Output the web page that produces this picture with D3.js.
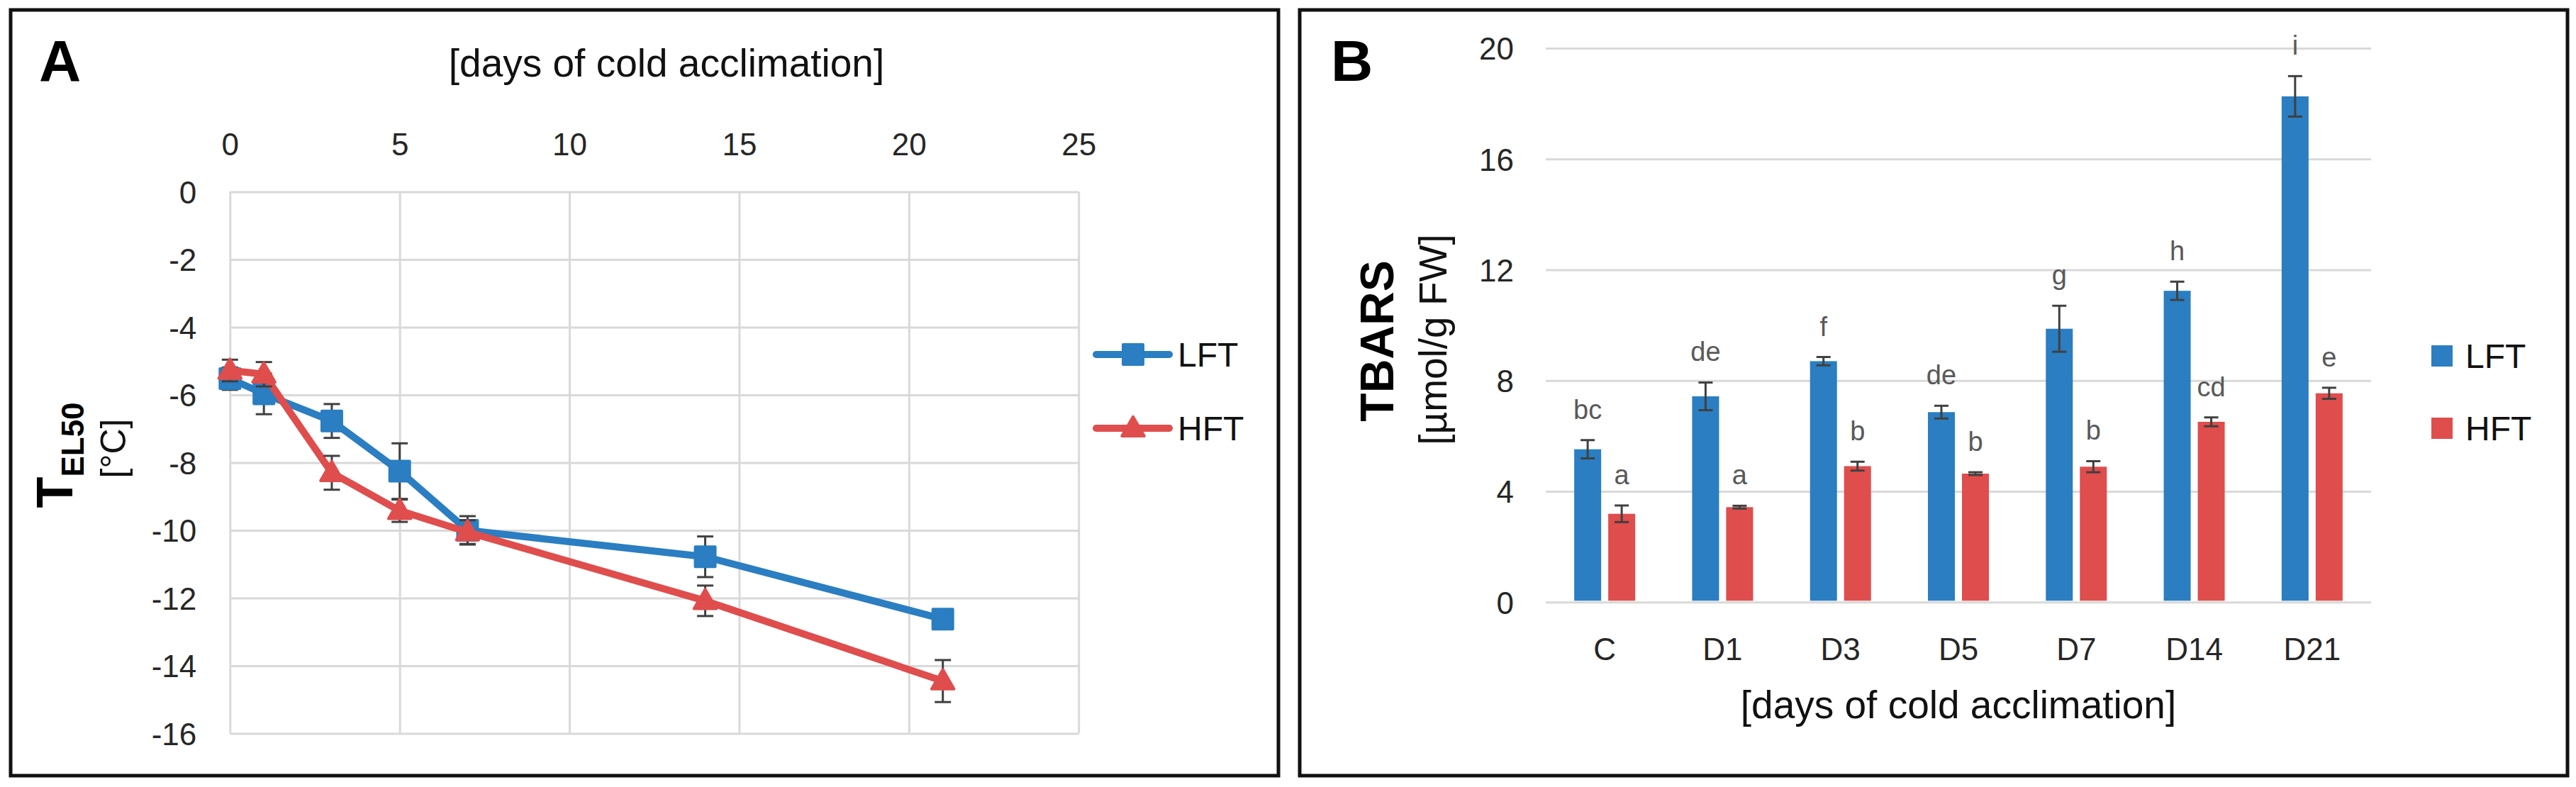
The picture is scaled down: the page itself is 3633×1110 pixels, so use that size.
<!DOCTYPE html>
<html>
<head>
<meta charset="utf-8">
<script src="https://cdn.jsdelivr.net/npm/d3@7"></script>
<style>
  html, body { margin: 0; padding: 0; background: #fff; }
  svg { display: block; font-family: "Liberation Sans", Arial, sans-serif; }
</style>
</head>
<body>
<script>
// ---------- Panel A data : T_EL50 vs days ----------
const daysA = [0, 1, 3, 5, 7, 14, 21];
const lftTel50 = [-5.52, -5.97, -6.77, -8.25, -10.0, -10.78, -12.62];
const lftTel50Err = [0.33, 0.6, 0.5, 0.82, 0.42, 0.6, 0.15];
const hftTel50 = [-5.28, -5.39, -8.3, -9.42, -10.05, -12.08, -14.45];
const hftTel50Err = [0.32, 0.36, 0.5, 0.33, 0.35, 0.45, 0.62];
const xTicksA = [0, 5, 10, 15, 20, 25];
const yTicksA = [0, -2, -4, -6, -8, -10, -12, -14, -16];

// ---------- Panel B data : TBARS ----------
const groupsB = ["C", "D1", "D3", "D5", "D7", "D14", "D21"];
const seriesNames = ["LFT", "HFT"];
const lftTbars = [5.52, 7.43, 8.70, 6.86, 9.87, 11.24, 18.26];
const lftTbarsErr = [0.33, 0.5, 0.15, 0.23, 0.83, 0.33, 0.73];
const hftTbars = [3.19, 3.43, 4.91, 4.64, 4.89, 6.51, 7.54];
const hftTbarsErr = [0.3, 0.05, 0.16, 0.05, 0.2, 0.16, 0.2];
const lftLetters = ["bc", "de", "f", "de", "g", "h", "i"];
const hftLetters = ["a", "a", "b", "b", "b", "cd", "e"];
const yTicksB = [0, 4, 8, 12, 16, 20];

const BLUE = "#2a7ec1", RED = "#df4d4d", GRID = "#d9d9d9", ERR = "#404040", TXT = "#262626";

const W = 3633, H = 1110;
const svg = d3.select("body").append("svg").attr("width", W).attr("height", H);
svg.append("rect").attr("width", W).attr("height", H).attr("fill", "#fff");

// panel frames
svg.append("rect").attr("x", 15).attr("y", 14).attr("width", 1788).attr("height", 1080)
  .attr("fill", "none").attr("stroke", "#111").attr("stroke-width", 5);
svg.append("rect").attr("x", 1833).attr("y", 14).attr("width", 1788).attr("height", 1080)
  .attr("fill", "none").attr("stroke", "#111").attr("stroke-width", 5);

// ================= PANEL A =================
const xA = d3.scaleLinear().domain([0, 25]).range([324.3, 1521.2]);
const yA = d3.scaleLinear().domain([0, -16]).range([270.4, 1034.6]);
const gA = svg.append("g");

const axTop = gA.append("g").attr("transform", `translate(0,${yA(0)})`)
  .call(d3.axisTop(xA).tickValues(xTicksA).tickSize(-(yA(-16) - yA(0))).tickPadding(51).tickFormat(d3.format("d")));
const axLeft = gA.append("g").attr("transform", `translate(${xA(0)},0)`)
  .call(d3.axisLeft(yA).tickValues(yTicksA).tickSize(-(xA(25) - xA(0))).tickPadding(47).tickFormat(d => d === 0 ? "0" : "-" + Math.abs(d)));
[axTop, axLeft].forEach(ax => {
  ax.select(".domain").remove();
  ax.selectAll("line").attr("stroke", GRID).attr("stroke-width", 3);
  ax.selectAll("text").attr("font-size", 44).attr("fill", TXT).attr("font-family", "Liberation Sans, Arial, sans-serif");
});
axLeft.selectAll("text").attr("dy", "0.36em");

gA.append("text").attr("x", 55).attr("y", 114).attr("font-size", 82).attr("font-weight", "bold").attr("fill", "#000").text("A");
gA.append("text").attr("x", 940).attr("y", 108).attr("text-anchor", "middle").attr("font-size", 55).attr("fill", "#111").text("[days of cold acclimation]");

const tA = gA.append("text").attr("transform", "translate(101.7,642) rotate(-90)").attr("text-anchor", "middle").attr("font-weight", "bold").attr("fill", "#000");
tA.append("tspan").attr("font-size", 72).text("T");
tA.append("tspan").attr("font-size", 44).attr("dy", 16).text("EL50");
gA.append("text").attr("transform", "translate(177,632.5) rotate(-90)").attr("text-anchor", "middle").attr("font-size", 50).attr("fill", "#111").text("[°C]");

const seriesA = [
  { name: "LFT", vals: lftTel50, errs: lftTel50Err, color: BLUE, sym: d3.symbolSquare, size: 784 },
  { name: "HFT", vals: hftTel50, errs: hftTel50Err, color: RED, sym: d3.symbolTriangle, size: 430 }
];
const lineA = d3.line().x(d => xA(d.x)).y(d => yA(d.y));
seriesA.forEach(s => {
  const pts = daysA.map((d, i) => ({ x: d, y: s.vals[i], e: s.errs[i] }));
  const g = gA.append("g");
  g.append("path").datum(pts).attr("d", lineA).attr("fill", "none").attr("stroke", s.color)
    .attr("stroke-width", 10).attr("stroke-linejoin", "round").attr("stroke-linecap", "round");
  const eb = g.selectAll("g.eb").data(pts).join("g").attr("stroke", ERR).attr("stroke-width", 3);
  eb.append("line").attr("x1", d => xA(d.x)).attr("x2", d => xA(d.x)).attr("y1", d => yA(d.y + d.e)).attr("y2", d => yA(d.y - d.e));
  eb.append("line").attr("x1", d => xA(d.x) - 11.5).attr("x2", d => xA(d.x) + 11.5).attr("y1", d => yA(d.y + d.e)).attr("y2", d => yA(d.y + d.e));
  eb.append("line").attr("x1", d => xA(d.x) - 11.5).attr("x2", d => xA(d.x) + 11.5).attr("y1", d => yA(d.y - d.e)).attr("y2", d => yA(d.y - d.e));
  g.selectAll("path.mk").data(pts).join("path").attr("class", "mk")
    .attr("d", d3.symbol(s.sym, s.size)).attr("transform", d => `translate(${xA(d.x)},${yA(d.y) + (s.name === "HFT" ? 2 : 0)})`)
    .attr("fill", s.color).attr("stroke", s.color).attr("stroke-width", 4).attr("stroke-linejoin", "round");
});

// legend A
const legA = gA.append("g");
seriesA.forEach((s, i) => {
  const cy = 500 + i * 104;
  legA.append("line").attr("x1", 1546).attr("x2", 1649).attr("y1", cy).attr("y2", cy)
    .attr("stroke", s.color).attr("stroke-width", 10).attr("stroke-linecap", "round");
  legA.append("path").attr("d", d3.symbol(s.sym, s.size)).attr("transform", `translate(1598,${cy + (s.name === "HFT" ? 2 : 0)})`)
    .attr("fill", s.color).attr("stroke", s.color).attr("stroke-width", 4).attr("stroke-linejoin", "round");
  legA.append("text").attr("x", 1661).attr("y", cy).attr("dy", "0.36em").attr("font-size", 48).attr("fill", "#111").text(s.name);
});

// ================= PANEL B =================
const x0B = d3.scaleBand().domain(groupsB).range([2180, 3344]);
const x1B = d3.scaleBand().domain(seriesNames).range([-43, 43]).paddingInner(10 / 48);
const yB = d3.scaleLinear().domain([0, 20]).range([849.3, 67.9]);
const gB = svg.append("g");

const axLB = gB.append("g").attr("transform", `translate(2180,0)`)
  .call(d3.axisLeft(yB).tickValues(yTicksB).tickSize(-(3344 - 2180)).tickPadding(45));
const axBB = gB.append("g").attr("transform", `translate(0,${yB(0)})`)
  .call(d3.axisBottom(x0B).tickSize(0).tickPadding(50.5));
[axLB, axBB].forEach(ax => {
  ax.select(".domain").remove();
  ax.selectAll("line").attr("stroke", GRID).attr("stroke-width", 3);
  ax.selectAll("text").attr("font-size", 44).attr("fill", TXT).attr("font-family", "Liberation Sans, Arial, sans-serif");
});
axLB.selectAll("text").attr("dy", "0.36em");

gB.append("text").attr("x", 1877).attr("y", 114).attr("font-size", 82).attr("font-weight", "bold").attr("fill", "#000").text("B");
gB.append("text").attr("x", 2762).attr("y", 1013).attr("text-anchor", "middle").attr("font-size", 55).attr("fill", "#111").text("[days of cold acclimation]");
gB.append("text").attr("transform", "translate(1965,481) rotate(-90)").attr("text-anchor", "middle")
  .attr("font-size", 66).attr("font-weight", "bold").attr("fill", "#000").text("TBARS");
gB.append("text").attr("transform", "translate(2040,479) rotate(-90)").attr("text-anchor", "middle")
  .attr("font-size", 55).attr("fill", "#111").text("[µmol/g FW]");

const seriesB = [
  { name: "LFT", vals: lftTbars, errs: lftTbarsErr, letters: lftLetters, color: BLUE },
  { name: "HFT", vals: hftTbars, errs: hftTbarsErr, letters: hftLetters, color: RED }
];
seriesB.forEach(s => {
  const pts = groupsB.map((c, i) => ({ c, v: s.vals[i], e: s.errs[i], l: s.letters[i] }));
  const cx = d => x0B(d.c) + x0B.bandwidth() / 2 + x1B(s.name) + x1B.bandwidth() / 2;
  const g = gB.append("g");
  g.selectAll("rect").data(pts).join("rect")
    .attr("x", d => x0B(d.c) + x0B.bandwidth() / 2 + x1B(s.name)).attr("width", x1B.bandwidth())
    .attr("y", d => yB(d.v)).attr("height", d => yB(0) - 2 - yB(d.v)).attr("fill", s.color);
  const eb = g.selectAll("g.eb").data(pts).join("g").attr("stroke", ERR).attr("stroke-width", 3);
  eb.append("line").attr("x1", cx).attr("x2", cx).attr("y1", d => yB(d.v + d.e)).attr("y2", d => yB(d.v - d.e));
  eb.append("line").attr("x1", d => cx(d) - 10).attr("x2", d => cx(d) + 10).attr("y1", d => yB(d.v + d.e)).attr("y2", d => yB(d.v + d.e));
  eb.append("line").attr("x1", d => cx(d) - 10).attr("x2", d => cx(d) + 10).attr("y1", d => yB(d.v - d.e)).attr("y2", d => yB(d.v - d.e));
  g.selectAll("text").data(pts).join("text").attr("x", cx).attr("y", d => yB(d.v + d.e) - 30)
    .attr("text-anchor", "middle").attr("font-size", 38).attr("fill", "#595959").text(d => d.l);
});

// legend B
seriesB.forEach((s, i) => {
  const cy = 502 + i * 102;
  gB.append("rect").attr("x", 3429).attr("y", cy - 15).attr("width", 30).attr("height", 30).attr("fill", s.color);
  gB.append("text").attr("x", 3477).attr("y", cy).attr("dy", "0.36em").attr("font-size", 48).attr("fill", "#111").text(s.name);
});
</script>
</body>
</html>
